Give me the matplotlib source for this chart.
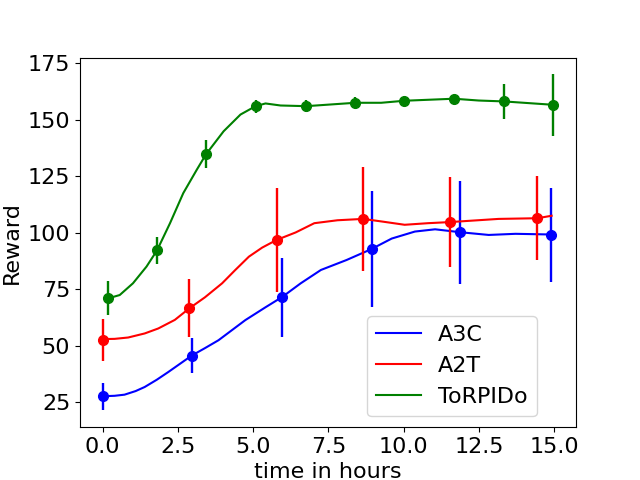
import numpy as np
import matplotlib
matplotlib.use("Agg")
import matplotlib.pyplot as plt

plt.rcParams['font.size'] = 16

# smoothed learning curves
a3c_t = [0.0, 0.4, 0.73, 1.1, 1.40, 1.8, 2.18, 2.96, 3.4, 3.85, 4.3, 4.74, 5.4, 5.97,
         6.58, 7.25, 8.1, 8.92, 9.6, 10.37, 11.04, 11.88, 12.82, 13.71, 14.88]
a3c_r = [27.7, 27.9, 28.4, 30.0, 31.8, 35.0, 38.4, 45.7, 49.0, 52.5, 57.0, 61.4, 67.0, 71.7,
         77.7, 83.6, 88.0, 92.8, 97.5, 100.6, 101.6, 100.3, 99.1, 99.6, 99.3]

a2t_t = [0.0, 0.4, 0.85, 1.4, 1.85, 2.4, 2.88, 3.4, 3.97, 4.4, 4.86, 5.3, 5.78, 6.41,
         7.03, 7.8, 8.65, 9.3, 10.03, 10.8, 11.54, 13.15, 14.44, 14.91]
a2t_r = [53.0, 53.1, 53.7, 55.5, 57.7, 61.5, 66.6, 71.5, 77.7, 83.5, 89.5, 93.5, 96.9, 100.2,
         104.3, 105.6, 106.2, 105.0, 103.6, 104.3, 104.8, 106.2, 106.5, 107.6]

torp_t = [0.18, 0.57, 1.01, 1.46, 1.81, 2.24, 2.68, 3.13, 3.44, 4.02, 4.58, 5.08, 5.41, 5.91,
          6.76, 8.39, 9.25, 10.02, 11.67, 12.49, 13.33, 14.97]
torp_r = [71.0, 72.5, 77.7, 85.1, 92.3, 104.3, 117.6, 128.0, 134.9, 145.0, 152.4, 156.1, 157.3, 156.4,
          156.1, 157.6, 157.6, 158.5, 159.4, 158.6, 158.2, 156.7]

# evaluation points with spread
a3c_pt = [0.0, 2.96, 5.96, 8.94, 11.86, 14.88]
a3c_pr = [27.7, 45.7, 71.5, 92.8, 100.2, 99.1]
a3c_pe = [6.0, 7.7, 17.6, 25.6, 22.9, 21.0]

a2t_pt = [0.0, 2.88, 5.78, 8.66, 11.53, 14.44]
a2t_pr = [52.8, 66.7, 96.7, 106.2, 104.8, 106.5]
a2t_pe = [9.3, 12.7, 23.0, 23.0, 20.0, 18.7]

torp_pt = [0.17, 1.80, 3.44, 5.08, 6.75, 8.39, 10.02, 11.66, 13.33, 14.97]
torp_pr = [71.2, 92.3, 135.0, 156.0, 156.1, 157.6, 158.3, 159.2, 158.2, 156.7]
torp_pe = [7.5, 6.0, 6.3, 3.0, 2.8, 2.5, 1.2, 1.8, 7.6, 13.8]

fig, ax = plt.subplots(figsize=(6.4, 4.8), dpi=100)

for t, r, pt, pr, pe, c, lab in [
        (a3c_t, a3c_r, a3c_pt, a3c_pr, a3c_pe, 'blue', 'A3C'),
        (a2t_t, a2t_r, a2t_pt, a2t_pr, a2t_pe, 'red', 'A2T'),
        (torp_t, torp_r, torp_pt, torp_pr, torp_pe, 'green', 'ToRPIDo')]:
    ax.plot(t, r, color=c, lw=1.5, label=lab)
    ax.errorbar(pt, pr, yerr=pe, fmt='o', color=c, ms=7, elinewidth=1.7)

ax.set_xlabel('time in hours')
ax.set_ylabel('Reward')
ax.set_xticks([0.0, 2.5, 5.0, 7.5, 10.0, 12.5, 15.0])
ax.set_yticks([25, 50, 75, 100, 125, 150, 175])
ax.set_ylim(14, 177.6)
ax.legend(loc='lower right', bbox_to_anchor=(0.921, 0.03), borderaxespad=0)

plt.savefig('out.png', dpi=100)
